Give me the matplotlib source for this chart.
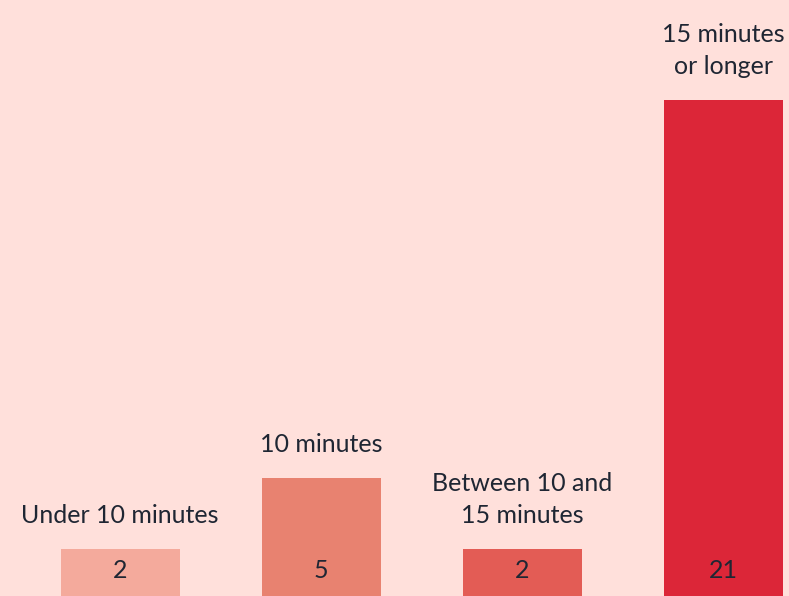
import matplotlib
matplotlib.use('Agg')
import matplotlib.pyplot as plt

# 数据
categories = ['Under 10 minutes', '10 minutes', 'Between 10 and\n15 minutes', '15 minutes\nor longer']
values = [2, 5, 2, 21]
colors = ['#F4AA9C', '#E88270', '#E35C55', '#DC2638']

bg = '#FFE0DB'
text_color = '#1F2633'

plt.rcParams['font.family'] = ['Lato', 'DejaVu Sans']

fig = plt.figure(figsize=(7.89, 5.96), dpi=100, facecolor=bg)
ax = fig.add_axes([0, 0, 1, 1])
ax.set_facecolor(bg)

x = list(range(len(values)))
bars = ax.bar(x, values, width=0.592, color=colors, linewidth=0)

for i, (b, v, label) in enumerate(zip(bars, values, categories)):
    cx = b.get_x() + b.get_width() / 2
    # 数值标签(柱内底部)
    ax.text(cx, 1.06, str(v), ha='center', va='center', fontsize=18, color=text_color)
    # 类别标签(柱顶上方)
    ax.annotate(label, (cx, v), xytext=(0, 16), textcoords='offset points',
                ha='center', va='bottom', fontsize=18, color=text_color,
                linespacing=1.45)

ax.set_xlim(-0.597, 3.328)
ax.set_ylim(0, 25.23)
ax.axis('off')

fig.savefig('out.png', dpi=100, facecolor=bg)
